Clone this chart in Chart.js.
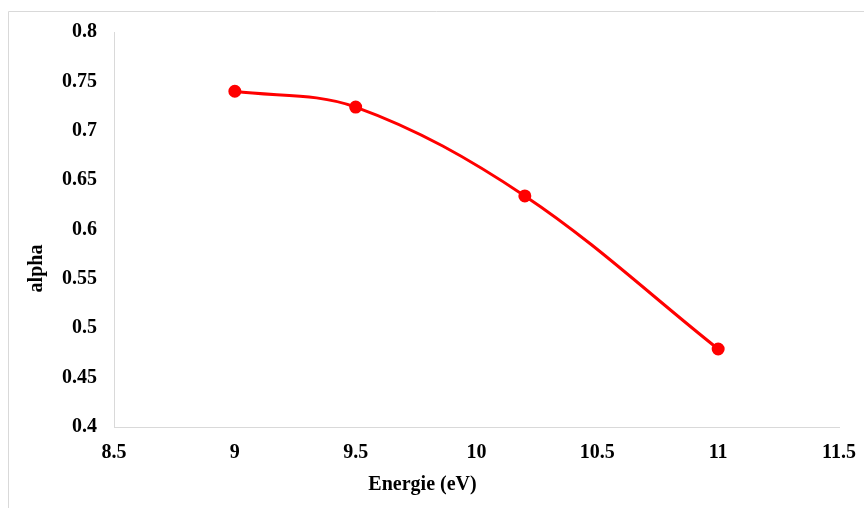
<!DOCTYPE html>
<html><head><meta charset="utf-8">
<script src="https://cdn.jsdelivr.net/npm/chart.js@4/dist/chart.umd.min.js"></script>
<style>html,body{margin:0;padding:0;background:#fff}#wrap{width:864px;height:508px;position:relative}</style>
</head><body><div id="wrap"><canvas id="c" width="864" height="508"></canvas></div>
<script>
const energies = [9, 9.5, 10.2, 11];
const alphaValues = [0.74, 0.724, 0.634, 0.479];
const xTicks = [8.5, 9, 9.5, 10, 10.5, 11, 11.5];
const yTicks = [0.4, 0.45, 0.5, 0.55, 0.6, 0.65, 0.7, 0.75, 0.8];
const xTitle = 'Energie (eV)';
const yTitle = 'alpha';

const FONT = '"Liberation Serif", "Times New Roman", serif';
const frame = {
  id: 'frame',
  beforeDraw(chart) {
    const c = chart.ctx;
    c.save();
    c.strokeStyle = '#d9d9d9';
    c.lineWidth = 1;
    c.beginPath();
    c.moveTo(8.5, 520); c.lineTo(8.5, 11.5); c.lineTo(870, 11.5);
    c.stroke();
    c.restore();
  },
  afterDraw(chart) {
    const c = chart.ctx;
    c.save();
    c.fillStyle = '#000';
    c.font = 'bold 20px ' + FONT;
    c.textAlign = 'center';
    c.textBaseline = 'middle';
    c.fillText(xTitle, 422.5, 485);
    c.translate(37, 268.5);
    c.rotate(-Math.PI / 2);
    c.fillText(yTitle, 0, 0);
    c.restore();
  }
};

new Chart(document.getElementById('c'), {
  type: 'scatter',
  data: {
    datasets: [{
      data: energies.map((x, i) => ({ x, y: alphaValues[i] })),
      showLine: true,
      borderColor: '#ff0000',
      backgroundColor: '#ff0000',
      borderWidth: 3,
      pointRadius: 5,
      pointHoverRadius: 5,
      tension: 0.35
    }]
  },
  options: {
    responsive: false,
    animation: false,
    layout: { padding: { top: 32, right: 25, left: 0, bottom: 0 } },
    plugins: { legend: { display: false }, tooltip: { enabled: false } },
    scales: {
      x: {
        type: 'linear', min: 8.5, max: 11.5,
        afterBuildTicks: s => { s.ticks = xTicks.map(v => ({ value: v })); },
        afterFit: s => { s.height = 81; s.paddingLeft = 0; s.paddingRight = 0; },
        grid: { display: false, drawTicks: false },
        border: { display: true, color: '#d9d9d9', width: 1 },
        ticks: { color: '#000', font: { family: FONT, size: 20, weight: 'bold' }, padding: 14, maxRotation: 0, callback: v => String(v) }
      },
      y: {
        type: 'linear', min: 0.4, max: 0.8,
        afterBuildTicks: s => { s.ticks = yTicks.map(v => ({ value: v })); },
        afterFit: s => { s.width = 114; s.paddingTop = 0; s.paddingBottom = 0; },
        grid: { display: false, drawTicks: false },
        border: { display: true, color: '#d9d9d9', width: 1 },
        ticks: { color: '#000', font: { family: FONT, size: 20, weight: 'bold' }, padding: 17, callback: v => String(parseFloat(v.toFixed(2))) }
      }
    }
  },
  plugins: [frame]
});
</script></body></html>
